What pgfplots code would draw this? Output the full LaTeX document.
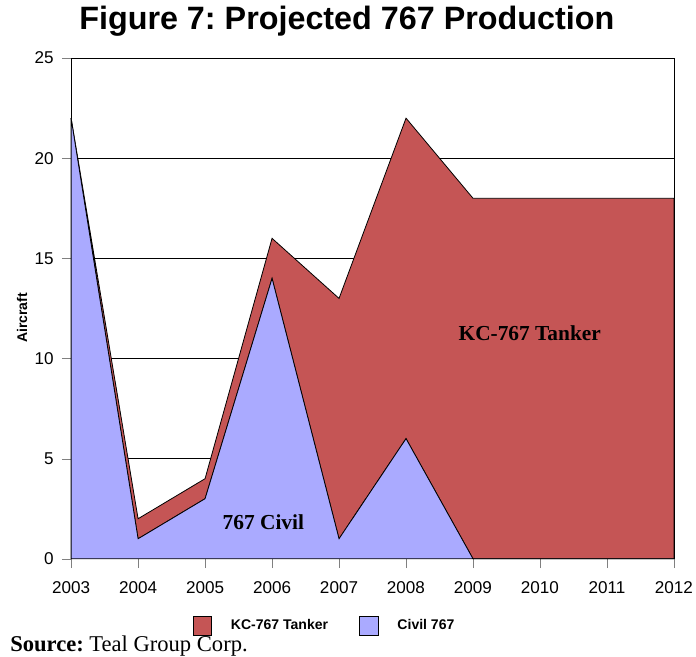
\documentclass[border=0pt]{standalone}
\usepackage{fontspec}
\setmainfont{Liberation Sans}
\newfontfamily\timesf{Liberation Serif}
\usepackage{pgfplots}
\pgfplotsset{compat=1.18}
\definecolor{tanker}{RGB}{197,85,85}
\definecolor{civil}{RGB}{170,170,255}
\frenchspacing
\begin{document}
\begin{tikzpicture}
\path[use as bounding box] (-53.25pt,-73.5pt) rectangle (468pt,418.5pt);
\begin{axis}[
  at={(0,0)}, anchor=south west,
  scale only axis, width=451.5pt, height=375pt,
  xmin=2003, xmax=2012, ymin=0, ymax=25,
  xtick={2003,...,2012}, ytick={0,5,...,25},
  /pgf/number format/1000 sep={},
  /pgf/number format/assume math mode=true,
  tick label style={font=\fontsize{12.8}{14}\selectfont},
  xticklabel style={yshift=-6.5pt},
  yticklabel style={xshift=-2.5pt},
  tick align=outside, tick pos=left, major tick length=7pt,
  ymajorgrids, grid style={black, line width=0.5pt},
  axis line style={black, line width=0.6pt},
  stack plots=y,
  reverse legend,
  legend columns=2,
  legend style={draw=none, at={(rel axis cs:0.4186,-0.134)}, anchor=center,
    font=\bfseries\fontsize{10.5}{12}\selectfont,
    nodes={inner sep=0pt},
    /tikz/every odd column/.append style={column sep=14.25pt},
    /tikz/every even column/.append style={column sep=23.25pt}},
  legend image code/.code={\draw[#1, draw=black, line width=0.5pt] (0pt,-7pt) rectangle (14pt,7pt);},
  clip=false,
]
\addplot[fill=civil, draw=black, line width=0.6pt] coordinates {
 (2003,22) (2004,1) (2005,3) (2006,14) (2007,1) (2008,6) (2009,0) (2010,0) (2011,0) (2012,0)} \closedcycle;
\addlegendentry{Civil 767}
\addplot[fill=tanker, draw=black, line width=0.6pt] coordinates {
 (2003,0) (2004,1) (2005,1) (2006,2) (2007,12) (2008,16) (2009,18) (2010,18) (2011,18) (2012,18)} \closedcycle;
\addlegendentry{KC-767 Tanker}
\end{axis}
\node[font=\timesf\bfseries\fontsize{16}{18}\selectfont] at (144pt,27.75pt) {767 Civil};
\node[font=\timesf\bfseries\fontsize{16}{18}\selectfont] at (343.5pt,168.75pt) {KC-767 Tanker};
\node[rotate=90, font=\bfseries\fontsize{10.5}{12}\selectfont] at (-36.75pt,180.4pt) {Aircraft};
\node[font=\bfseries\fontsize{24.2}{28}\selectfont] at (206.5pt,402.4pt) {Figure 7: Projected 767 Production};
\node[anchor=base west, font=\timesf\fontsize{16.9}{18}\selectfont, inner sep=0pt] at (-45.75pt,-69.75pt) {\textbf{Source:} Teal Group Corp.};
\end{tikzpicture}
\end{document}
